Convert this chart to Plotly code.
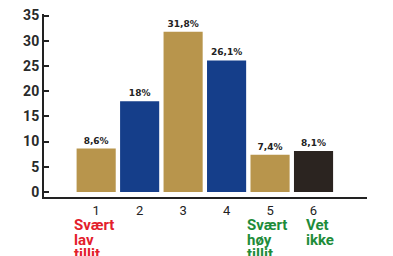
import plotly.graph_objects as go

categories = ["1", "2", "3", "4", "5", "6"]
values = [8.6, 18, 31.8, 26.1, 7.4, 8.1]
value_labels = ["8,6%", "18%", "31,8%", "26,1%", "7,4%", "8,1%"]
bar_colors = ["#B8954C", "#153E8A", "#B8954C", "#153E8A", "#B8954C", "#2B2420"]
y_ticks = [0, 5, 10, 15, 20, 25, 30, 35]

notes = [
    ("1", ["Svært", "lav", "tillit"], "#E3202B", -23),
    ("5", ["Svært", "høy", "tillit"], "#1E8C3A", -24),
    ("6", ["Vet", "ikke"], "#1E8C3A", -9),
]

fig = go.Figure(go.Bar(
    x=categories, y=values, marker_color=bar_colors, marker_line_width=0,
    text=value_labels, textposition="outside", cliponaxis=False,
    textfont=dict(family="DejaVu Sans", size=9, color="#222222", weight="bold"),
))

for cat, lines, col, dx in notes:
    for i, word in enumerate(lines):
        fig.add_annotation(x=categories.index(cat), y=-0.1, xref="x", yref="paper",
                           text="<b>" + word + "</b>", showarrow=False, borderpad=0,
                           xanchor="left", yanchor="top", xshift=dx, yshift=-14.5 * i,
                           font=dict(family="Roboto", size=15, color=col))

fig.update_layout(
    width=393, height=256, margin=dict(l=44, r=26, t=14, b=59),
    paper_bgcolor="white", plot_bgcolor="white", showlegend=False, bargap=0.1,
    xaxis=dict(type="category", range=[-1.2, 6.23], showline=True, linecolor="#222222", linewidth=2,
               ticks="", showgrid=False, automargin=False,
               tickfont=dict(family="Roboto", size=13, color="#222222")),
    yaxis=dict(range=[-1, 35.3], tickvals=y_ticks, showline=True, linecolor="#222222", linewidth=2,
               ticks="inside", ticklen=5, tickwidth=1.5, tickcolor="#222222", showgrid=False,
               zeroline=False, automargin=False,
               tickfont=dict(family="Roboto", size=14, color="#2A2A2A", weight="bold")),
)

fig.write_html("out.html", config={"displayModeBar": False},
               post_script="document.body.style.margin='0';document.body.style.overflow='hidden';")
